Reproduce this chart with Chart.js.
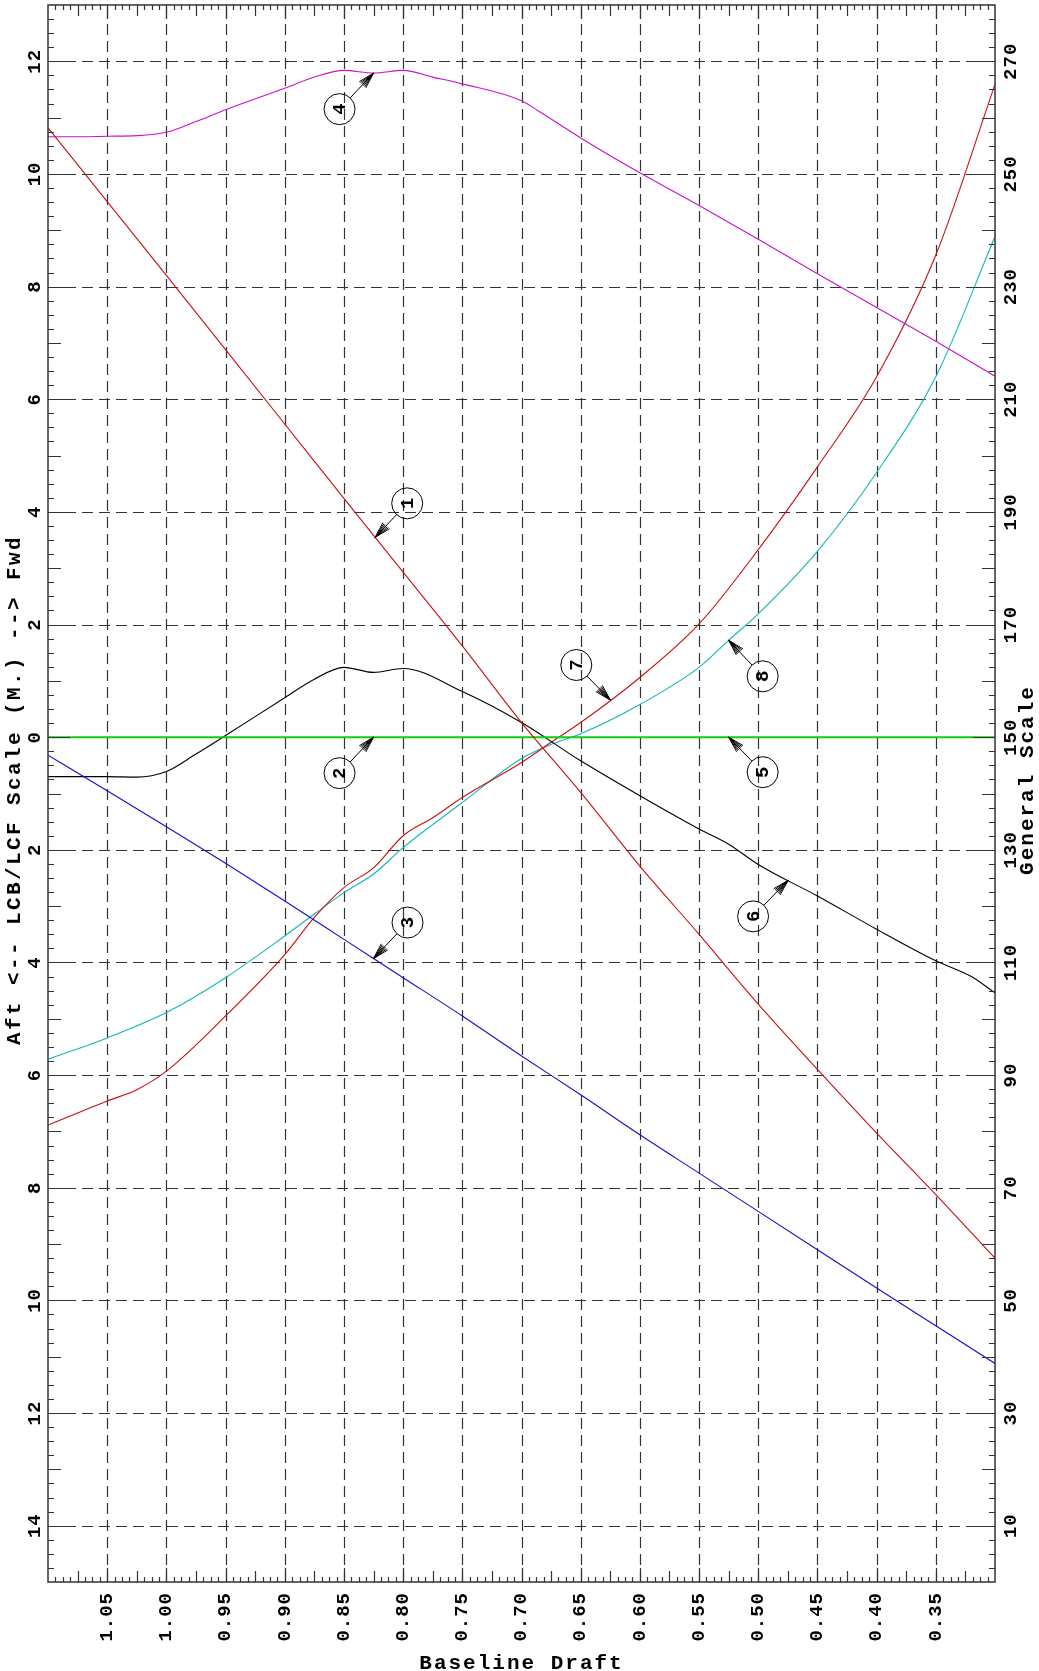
<!DOCTYPE html>
<html>
<head>
<meta charset="utf-8">
<title>Hydrostatic Curves</title>
<script src="https://cdn.jsdelivr.net/npm/chart.js@4.4.1/dist/chart.umd.min.js"></script>
<style>
  html, body { margin: 0; padding: 0; background: #fff; }
  canvas { display: block; }
</style>
</head>
<body>
<canvas id="hydroChart" width="1039" height="1671"></canvas>
<script>
// axis ticks
const draftTicks = [1.05, 1.00, 0.95, 0.90, 0.85, 0.80, 0.75, 0.70, 0.65, 0.60, 0.55, 0.50, 0.45, 0.40, 0.35];
const lcbTicks = [12, 10, 8, 6, 4, 2, 0, -2, -4, -6, -8, -10, -12, -14];
const generalTicks = [270, 250, 230, 210, 190, 170, 150, 130, 110, 90, 70, 50, 30, 10];

// drafts shared by curves 1 and 3
const stepDraft = [1.10, 1.05, 1.00, 0.95, 0.90, 0.85, 0.80, 0.75, 0.70, 0.65, 0.60, 0.55, 0.50, 0.45, 0.40, 0.35, 0.30];

// curve 1 (general scale)
const curve1 = [258.2, 245.1, 232.0, 218.8, 205.6, 192.4, 179.3, 166.2, 152.6, 140.2, 127.1, 115.0, 102.6, 91.0, 79.7, 68.8, 57.5];

// curve 3 (general scale)
const curve3 = [146.8, 140.5, 134.1, 127.6, 120.9, 114.1, 107.3, 100.5, 93.4, 86.5, 79.4, 72.6, 65.8, 59.0, 52.2, 45.5, 38.8];

// curve 4 (general scale)
const curve4Draft = [1.10, 1.075, 1.05, 1.025, 1.00, 0.975, 0.95, 0.90, 0.875, 0.85, 0.825, 0.80, 0.775, 0.75, 0.70, 0.685, 0.65, 0.60, 0.55, 0.50, 0.45, 0.40, 0.35, 0.30];
const curve4 = [256.6, 256.6, 256.7, 256.8, 257.4, 259.3, 261.4, 265.2, 267.2, 268.4, 267.9, 268.4, 267.2, 266.0, 263.0, 261.1, 256.4, 250.2, 244.4, 238.4, 232.3, 226.3, 220.3, 214.1];

// curves 2 / 5 (LCB scale)
const curve5Draft = [1.10, 0.30];
const curve5 = [0, 0];

// curve 6 (LCB scale)
const curve6Draft = [1.10, 1.075, 1.05, 1.025, 1.00, 0.975, 0.95, 0.90, 0.875, 0.85, 0.825, 0.80, 0.75, 0.70, 0.65, 0.60, 0.55, 0.525, 0.50, 0.45, 0.40, 0.35, 0.32, 0.30];
const curve6 = [-0.70, -0.70, -0.70, -0.71, -0.61, -0.30, 0.03, 0.70, 1.03, 1.24, 1.15, 1.22, 0.81, 0.26, -0.42, -1.04, -1.63, -1.90, -2.26, -2.82, -3.41, -3.97, -4.25, -4.54];

// curve 7 (general scale)
const curve7Draft = [1.10, 1.05, 1.025, 1.00, 0.95, 0.90, 0.875, 0.85, 0.825, 0.80, 0.775, 0.75, 0.70, 0.675, 0.65, 0.60, 0.55, 0.50, 0.45, 0.40, 0.35, 0.30];
const curve7 = [81.1, 85.4, 87.4, 90.7, 100.5, 111.4, 118.0, 123.3, 126.8, 132.5, 135.7, 139.3, 145.5, 149.1, 152.6, 160.6, 170.1, 183.3, 198.0, 214.0, 235.6, 265.9];

// curve 8 (general scale)
const curve8Draft = [1.10, 1.05, 1.00, 0.95, 0.90, 0.875, 0.85, 0.825, 0.80, 0.75, 0.70, 0.675, 0.65, 0.60, 0.55, 0.525, 0.50, 0.45, 0.40, 0.35, 0.30];
const curve8 = [92.8, 96.6, 101.1, 107.3, 114.7, 118.6, 122.4, 125.7, 130.4, 138.4, 146.2, 148.7, 150.6, 155.8, 162.4, 167.2, 171.9, 183.0, 197.0, 214.0, 238.9];

// numbered callouts: which curve they point at, and at what draft
const calloutIds = ['1', '2', '3', '4', '5', '6', '7', '8'];
const calloutCurve = [0, 3, 1, 2, 3, 4, 5, 6];
const calloutDraft = [0.8236, 0.825, 0.825, 0.825, 0.525, 0.4748, 0.625, 0.525];

const pts = (xs, ys) => xs.map((d, i) => ({ x: d, y: ys[i] }));

const curves = [
    { xs: stepDraft, ys: curve1, color: '#c81010', width: 1.1, axis: 'y2' },
    { xs: stepDraft, ys: curve3, color: '#1010cc', width: 1.1, axis: 'y2' },
    { xs: curve4Draft, ys: curve4, color: '#cc10cc', width: 1.1, axis: 'y2' },
    { xs: curve5Draft, ys: curve5, color: '#10cc10', width: 2, axis: 'y' },
    { xs: curve6Draft, ys: curve6, color: '#000000', width: 1.1, axis: 'y' },
    { xs: curve7Draft, ys: curve7, color: '#c81010', width: 1.1, axis: 'y2' },
    { xs: curve8Draft, ys: curve8, color: '#10b8b8', width: 1.1, axis: 'y2' }
];

// offsets of each callout circle from its arrow tip
const calloutOffset = [[32, -34], [-34, 36], [34, -36], [-34, 36], [34, 35], [-35, 36], [-34, -35], [34, 36]];

const monoFont = '"Liberation Mono", "DejaVu Sans Mono", monospace';

function valueAt(xs, ys, d) {
    for (let i = 0; i < xs.length - 1; i++) {
        const a = xs[i], b = xs[i + 1];
        if ((d - a) * (d - b) <= 0) {
            const t = (d - a) / (b - a);
            return ys[i] + t * (ys[i + 1] - ys[i]);
        }
    }
    return ys[ys.length - 1];
}

function rotatedText(ctx, text, x, y, align) {
    ctx.save();
    ctx.translate(x, y);
    ctx.rotate(-Math.PI / 2);
    ctx.textAlign = align;
    ctx.textBaseline = 'middle';
    ctx.fillText(text, 0, 0);
    ctx.restore();
}

const plotFrame = {
    id: 'plotFrame',
    beforeDraw(chart) {
        const ctx = chart.ctx;
        ctx.save();
        ctx.fillStyle = '#fff';
        ctx.fillRect(0, 0, chart.width, chart.height);
        ctx.restore();
    },
    beforeDatasetsDraw(chart) {
        const { ctx, chartArea: a, scales: { x, y } } = chart;
        ctx.save();
        ctx.strokeStyle = '#333';
        ctx.lineWidth = 1.2;
        ctx.setLineDash([11, 6]);
        draftTicks.forEach(d => {
            const px = Math.round(x.getPixelForValue(d)) + 0.5;
            ctx.beginPath();
            ctx.moveTo(px, a.bottom);
            ctx.lineTo(px, a.top);
            ctx.stroke();
        });
        lcbTicks.forEach(v => {
            const py = Math.round(y.getPixelForValue(v)) + 0.5;
            ctx.beginPath();
            ctx.moveTo(a.left, py);
            ctx.lineTo(a.right, py);
            ctx.stroke();
        });
        ctx.restore();
    },
    afterDatasetsDraw(chart) {
        const { ctx, chartArea: a, scales: { x, y, y2 } } = chart;
        ctx.save();

        // frame
        ctx.strokeStyle = '#333';
        ctx.lineWidth = 1.5;
        ctx.strokeRect(a.left, a.top, a.right - a.left, a.bottom - a.top);

        // left and right ticks every 0.25
        ctx.lineWidth = 1.2;
        ctx.beginPath();
        for (let k = -15 * 4 + 1; k < 13 * 4; k++) {
            const py = Math.round(y.getPixelForValue(k / 4)) + 0.5;
            const len = k % 8 === 0 ? 22 : (k % 4 === 0 ? 13 : 6);
            ctx.moveTo(a.left, py); ctx.lineTo(a.left + len, py);
            ctx.moveTo(a.right, py); ctx.lineTo(a.right - len, py);
        }
        // top and bottom ticks every 0.00625
        for (let j = 1; j < 128; j++) {
            const px = Math.round(x.getPixelForValue(0.30 + j * 0.00625)) + 0.5;
            const len = j % 8 === 0 ? 14 : (j % 4 === 0 ? 11 : 5);
            ctx.moveTo(px, a.bottom); ctx.lineTo(px, a.bottom - len);
            ctx.moveTo(px, a.top); ctx.lineTo(px, a.top + len);
        }
        ctx.stroke();

        // tick labels
        ctx.fillStyle = '#000';
        ctx.font = 'bold 19px ' + monoFont;
        ctx.letterSpacing = '1px';
        draftTicks.forEach(d => {
            rotatedText(ctx, d.toFixed(2), x.getPixelForValue(d), a.bottom + 10, 'right');
        });
        lcbTicks.forEach(v => {
            rotatedText(ctx, String(Math.abs(v)), 35, y.getPixelForValue(v), 'center');
        });
        generalTicks.forEach(g => {
            rotatedText(ctx, String(g), 1011, y2.getPixelForValue(g), 'center');
        });

        // axis titles
        ctx.font = 'bold 21px ' + monoFont;
        ctx.letterSpacing = '2.4px';
        rotatedText(ctx, 'Aft <-- LCB/LCF Scale (M.) --> Fwd', 15, 790, 'center');
        ctx.letterSpacing = '2px';
        rotatedText(ctx, 'General Scale', 1028, 780, 'center');
        ctx.textAlign = 'center';
        ctx.textBaseline = 'middle';
        ctx.fillText('Baseline Draft', (a.left + a.right) / 2, 1664);
        ctx.letterSpacing = '0px';

        // numbered callouts
        ctx.strokeStyle = '#000';
        ctx.lineWidth = 1;
        ctx.font = 'bold 19px ' + monoFont;
        calloutIds.forEach((id, i) => {
            const c = curves[calloutCurve[i]];
            const d = calloutDraft[i];
            const scale = chart.scales[c.axis];
            const tx = x.getPixelForValue(d);
            const ty = scale.getPixelForValue(valueAt(c.xs, c.ys, d));
            const cx = tx + calloutOffset[i][0];
            const cy = ty + calloutOffset[i][1];
            const r = 15.5;
            const dx = tx - cx, dy = ty - cy;
            const dist = Math.hypot(dx, dy);
            const ux = dx / dist, uy = dy / dist;
            const nx = -uy, ny = ux;

            ctx.beginPath();
            ctx.arc(cx, cy, r, 0, Math.PI * 2);
            ctx.stroke();

            ctx.beginPath();
            ctx.moveTo(cx + ux * r, cy + uy * r);
            ctx.lineTo(tx, ty);
            const bx = tx - ux * 16, by = ty - uy * 16;
            [-4.5, -3, -1.5, 0, 1.5, 3, 4.5].forEach(s => {
                ctx.moveTo(tx, ty);
                ctx.lineTo(bx + nx * s, by + ny * s);
            });
            ctx.stroke();

            rotatedText(ctx, id, cx + 1, cy, 'center');
        });

        ctx.restore();
    }
};

new Chart(document.getElementById('hydroChart'), {
    type: 'line',
    data: {
        datasets: curves.map(c => ({
            data: pts(c.xs, c.ys),
            borderColor: c.color,
            borderWidth: c.width,
            pointRadius: 0,
            fill: false,
            cubicInterpolationMode: 'monotone',
            yAxisID: c.axis
        }))
    },
    options: {
        responsive: false,
        animation: false,
        devicePixelRatio: 1,
        layout: { padding: { top: 5, left: 0, right: 0, bottom: 0 } },
        plugins: { legend: { display: false }, tooltip: { enabled: false } },
        scales: {
            x: {
                type: 'linear', reverse: true, min: 0.30, max: 1.10,
                ticks: { display: false }, grid: { display: false }, border: { display: false },
                afterFit: s => { s.height = 89; }
            },
            y: {
                type: 'linear', position: 'left', min: -15, max: 13,
                ticks: { display: false }, grid: { display: false }, border: { display: false },
                afterFit: s => { s.width = 48; }
            },
            y2: {
                type: 'linear', position: 'right', min: 0, max: 280,
                ticks: { display: false }, grid: { display: false }, border: { display: false },
                afterFit: s => { s.width = 44; }
            }
        }
    },
    plugins: [plotFrame]
});
</script>
</body>
</html>
